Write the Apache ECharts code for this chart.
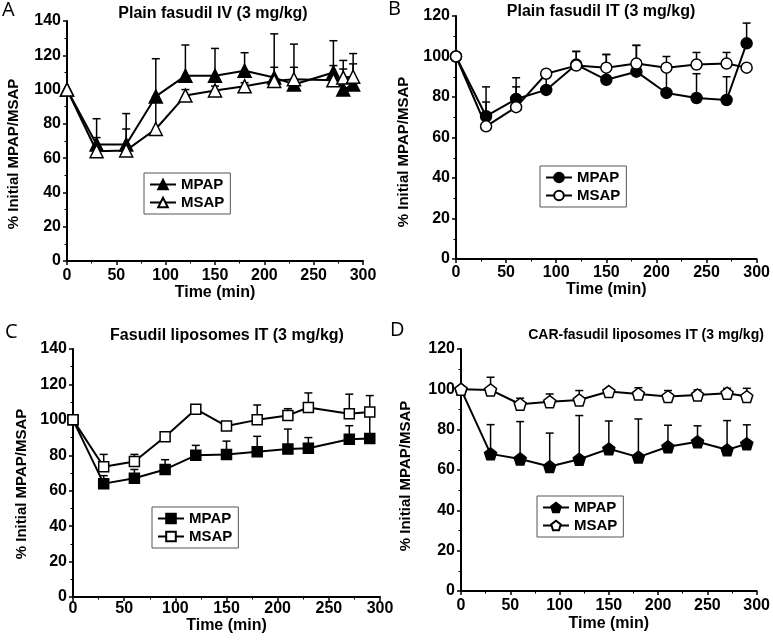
<!DOCTYPE html>
<html><head><meta charset="utf-8">
<script src="https://cdn.jsdelivr.net/npm/echarts@6/dist/echarts.min.js"></script>
<style>html,body{margin:0;padding:0;background:#fff}#c{width:773px;height:643px}</style>
</head><body><div id="c"></div>
<script>
// ---- Panel A: Plain fasudil IV ----
const timeA = [0,30,60,90,120,150,180,210,230,270,280,290];
const mpapA = [100,68,68,96,108,108,111,107,103,110,100,103];
const mpapSdA = [0,15,18,22,18,16,10.5,25.5,23.5,18.5,17,18];
const msapA = [100,64,64.5,77,96.5,99.5,102,105,106,105.5,107,107.5];
const msapSdA = [0,8,12.5,19,3.5,2.5,2,8,7,8.5,5,7.5];
// ---- Panel B: Plain fasudil IT ----
const timeB = [0,30,60,90,120,150,180,210,240,270,290];
const mpapB = [100,70.5,79,83.5,96,88.5,92.5,82,79.5,78.5,106.5];
const mpapSdB = [0,14.5,10.5,8.5,6.5,12.5,13,12,12,11.5,10];
const msapB = [100,65.5,75,91.5,95.5,94.5,96.5,94.5,96,96.5,94.5];
const msapSdB = [0,12,10,1.5,7,6.5,9,5.5,6,5.5,0];
// ---- Panel C: Fasudil liposomes IT ----
const timeC = [0,30,60,90,120,150,180,210,230,270,290];
const mpapC = [100,64,67,72,80,80.5,82,83.5,84,89,89.5];
const mpapSdC = [0,4.5,5,5.5,5.6,7.5,8.7,11.3,6,7.7,15];
const msapC = [100,73.5,76.5,90.5,106,96.5,100,102.5,107,103.5,104.5];
const msapSdC = [0,7,4,1.5,0,0,8.4,3.8,8.2,11,9.2];
// ---- Panel D: CAR-fasudil liposomes IT ----
const timeD = [0,30,60,90,120,150,180,210,240,270,290];
const mpapD = [100,68,65.5,61.7,65.3,70.5,66.4,71.5,74,70,73];
const mpapSdD = [0,14.5,18.5,16.6,21.7,13.8,18.9,10.7,7.9,14.5,9.4];
const msapD = [100,99.7,92.6,93.9,94.7,98.9,97.7,96.4,97.2,98.1,96.4];
const msapSdD = [0,6.3,3,3.8,4.7,0.5,3.1,3,2.5,2.4,4.1];

const titles = ['Plain fasudil IV (3 mg/kg)','Plain fasudil IT (3 mg/kg)','Fasudil liposomes IT (3 mg/kg)','CAR-fasudil liposomes IT (3 mg/kg)'];
const letters = ['A','B','C','D'];
const yMax = [140,120,140,120];
const xName = 'Time (min)';
const yName = '% Initial MPAP/MSAP';
const legendNames = ['MPAP','MSAP'];

const FONT = 'Liberation Sans, Arial, sans-serif';
const pentagon = 'path://M0,-10L9.51,-3.09L5.88,8.09L-5.88,8.09L-9.51,-3.09Z';

const panels = [
  {t:timeA, m:mpapA, ms:mpapSdA, s:msapA, ss:msapSdA, sym:'triangle', size:13,
   grid:{left:67,top:21,width:296,height:240}, title:[213,6], tsize:16, letter:[2,0],
   legend:[144,173], yGap:46, yPad:26, xGap:24, xMargin:7},
  {t:timeB, m:mpapB, ms:mpapSdB, s:msapB, ss:msapSdB, sym:'circle', size:11,
   grid:{left:456,top:16,width:301,height:243}, title:[601,4], tsize:16, letter:[388,-1],
   legend:[540,166], yGap:45, yPad:29, xGap:22, xMargin:6},
  {t:timeC, m:mpapC, ms:mpapSdC, s:msapC, ss:msapSdC, sym:'rect', size:10,
   grid:{left:73,top:349,width:307,height:248}, title:[227,328], tsize:16, letter:[5,322],
   legend:[152,507], yGap:44, yPad:22, xGap:21, xMargin:4},
  {t:timeD, m:mpapD, ms:mpapSdD, s:msapD, ss:msapSdD, sym:pentagon, size:12,
   grid:{left:461,top:349,width:299,height:242}, title:[646,328], tsize:14, letter:[390,320],
   legend:[537,496], yGap:48, yPad:12, xGap:25, xMargin:7}
];

function errSeries(x, y, sd, gi) {
  return {
    type:'custom', xAxisIndex:gi, yAxisIndex:gi, z:1, silent:true,
    data: x.map((t,i)=>[t, y[i], sd[i]]),
    encode:{x:0, y:1},
    renderItem:(params, api)=>{
      const sdv = api.value(2);
      if (!sdv) return null;
      const p0 = api.coord([api.value(0), api.value(1)]);
      const p1 = api.coord([api.value(0), api.value(1)+sdv]);
      return {type:'group', children:[
        {type:'line', shape:{x1:p0[0],y1:p0[1],x2:p1[0],y2:p1[1]}, style:{stroke:'#000', lineWidth:1.5}},
        {type:'line', shape:{x1:p1[0]-4,y1:p1[1],x2:p1[0]+4,y2:p1[1]}, style:{stroke:'#000', lineWidth:1.5}}
      ]};
    }
  };
}

const option = {animation:false, backgroundColor:'#fff',
  grid:[], xAxis:[], yAxis:[], series:[], legend:[], title:[]};

panels.forEach((p, i)=>{
  option.grid.push(Object.assign({containLabel:false}, p.grid));
  const labelStyle = {color:'#000', fontWeight:'bold', fontSize:16, fontFamily:FONT};
  option.xAxis.push({gridIndex:i, type:'value', min:0, max:300, interval:50,
    axisLine:{onZero:false, lineStyle:{color:'#000', width:2}},
    axisTick:{length:4, lineStyle:{color:'#000', width:1.5}},
    minorTick:{show:true, splitNumber:2, length:2.5, lineStyle:{color:'#000', width:1}},
    splitLine:{show:false},
    axisLabel:Object.assign({margin:p.xMargin}, labelStyle),
    name:xName, nameLocation:'middle', nameGap:p.xGap,
    nameTextStyle:{color:'#000', fontWeight:'bold', fontSize:16, fontFamily:FONT}});
  option.yAxis.push({gridIndex:i, type:'value', min:0, max:yMax[i], interval:20,
    axisLine:{onZero:false, lineStyle:{color:'#000', width:2}},
    axisTick:{length:4, lineStyle:{color:'#000', width:1.5}},
    minorTick:{show:true, splitNumber:2, length:2.5, lineStyle:{color:'#000', width:1}},
    splitLine:{show:false},
    axisLabel:Object.assign({margin:6}, labelStyle),
    name:yName, nameLocation:'middle', nameGap:p.yGap,
    nameTextStyle:{color:'#000', fontWeight:'bold', fontSize:15, fontFamily:FONT, padding:[0,p.yPad,0,0]}});
  const suf = '_' + letters[i];
  option.series.push(errSeries(p.t, p.m, p.ms, i));
  option.series.push(errSeries(p.t, p.s, p.ss, i));
  option.series.push({type:'line', name:legendNames[0]+suf, xAxisIndex:i, yAxisIndex:i, z:3,
    data:p.t.map((t,k)=>[t, p.m[k]]), symbol:p.sym, symbolSize:p.size,
    lineStyle:{color:'#000', width:2}, itemStyle:{color:'#000', borderColor:'#000', borderWidth:1.5}});
  option.series.push({type:'line', name:legendNames[1]+suf, xAxisIndex:i, yAxisIndex:i, z:4,
    data:p.t.map((t,k)=>[t, p.s[k]]), symbol:p.sym, symbolSize:p.size,
    lineStyle:{color:'#000', width:2}, itemStyle:{color:'#fff', borderColor:'#000', borderWidth:1.5}});
  option.legend.push({data:[legendNames[0]+suf, legendNames[1]+suf], left:p.legend[0], top:p.legend[1],
    orient:'vertical', formatter:n=>n.split('_')[0], selectedMode:false,
    borderColor:'#555', borderWidth:1, padding:[4,6,4,5], itemGap:3, itemWidth:26, itemHeight:12,
    textStyle:{color:'#000', fontWeight:'bold', fontSize:15, fontFamily:FONT}});
  option.title.push({text:titles[i], left:p.title[0], top:p.title[1], textAlign:'center', padding:0,
    textStyle:{color:'#000', fontWeight:'bold', fontSize:p.tsize, fontFamily:FONT}});
  option.title.push({text:letters[i], left:p.letter[0], top:p.letter[1], padding:0,
    textStyle:{color:'#000', fontWeight:'normal', fontSize:20, fontFamily:'Open Sans, Noto Sans, sans-serif'}});
});

const chart = echarts.init(document.getElementById('c'), null, {renderer:'canvas'});
chart.setOption(option);
</script>
</body></html>
